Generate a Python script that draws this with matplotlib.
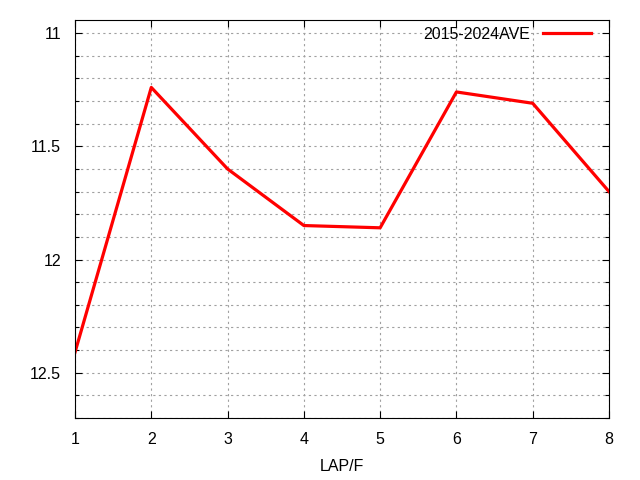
import matplotlib
matplotlib.use("Agg")
import matplotlib.pyplot as plt
from matplotlib.ticker import MultipleLocator, FormatStrFormatter

plt.rcParams["font.family"] = ["Liberation Sans", "DejaVu Sans"]

laps = [1, 2, 3, 4, 5, 6, 7, 8]
ave_2015_2024 = [12.41, 11.24, 11.60, 11.85, 11.86, 11.26, 11.31, 11.70]
series_label = "2015-2024AVE"

fig = plt.figure(figsize=(6.4, 4.8), dpi=100)
ax = fig.add_axes([75 / 640, 62 / 480, 534 / 640, 398.5 / 480])

ax.plot(laps, ave_2015_2024, color="#ff0000", linewidth=2.3, label=series_label)

ax.set_xlim(1, 8)
ax.set_ylim(12.7, 10.94)
ax.xaxis.set_major_locator(MultipleLocator(1))
ax.yaxis.set_major_locator(MultipleLocator(0.5))
ax.yaxis.set_minor_locator(MultipleLocator(0.1))
ax.yaxis.set_major_formatter(FormatStrFormatter("%g"))

ax.grid(True, which="both", color="#a0a0a0", linestyle=(0, (2, 3)), linewidth=0.8)
ax.tick_params(which="both", direction="in", top=True, right=True, labelsize=11.5, width=0.8)
ax.tick_params(which="major", length=5)
ax.tick_params(axis="y", which="major", pad=10)
ax.tick_params(axis="x", which="major", pad=10)
ax.tick_params(which="minor", length=3)
for spine in ax.spines.values():
    spine.set_linewidth(0.8)

ax.set_xlabel("LAP/F", fontsize=11.5, labelpad=9)

leg = ax.legend(loc="upper right", bbox_to_anchor=(591 / 640, (480 - 27) / 480),
                bbox_transform=fig.transFigure, frameon=False, fontsize=11.5,
                handlelength=3.0, markerfirst=False, borderaxespad=0, borderpad=0,
                handletextpad=0.8)

fig.savefig("out.png", dpi=100)
